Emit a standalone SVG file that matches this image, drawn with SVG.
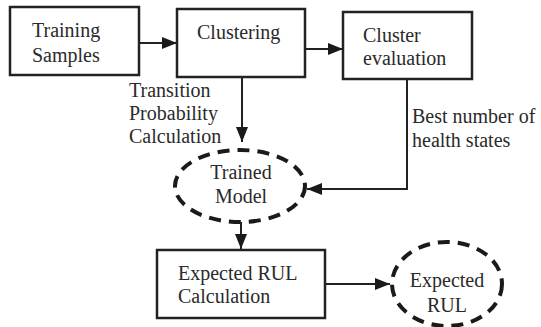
<svg xmlns="http://www.w3.org/2000/svg" width="541" height="327" viewBox="0 0 541 327">
<style>
  .box { fill: #fff; stroke: #222; stroke-width: 2.5; }
  .dash { fill: #fff; stroke: #1a1a1a; stroke-width: 4; stroke-dasharray: 12 8; }
  .t { font-family: "Liberation Serif", "Times New Roman", serif; font-size: 20px; fill: #2a2a2a; }
  .c { text-anchor: middle; }
  .line { fill: none; stroke: #222; stroke-width: 2; }
</style>
<defs>
  <marker id="arr" markerWidth="15" markerHeight="12" refX="15" refY="6" orient="auto" markerUnits="userSpaceOnUse">
    <path d="M0,0 L15,6 L0,12 Z" fill="#1a1a1a"/>
  </marker>
</defs>
<rect width="541" height="327" fill="#fff"/>
<g id="training-samples">
  <rect class="box" x="10" y="7" width="129" height="68"/>
  <text class="t" x="32" y="37">Training</text>
  <text class="t" x="32" y="62">Samples</text>
</g>
<g id="clustering">
  <rect class="box" x="177" y="9" width="128" height="68"/>
  <text class="t" x="197" y="39">Clustering</text>
</g>
<g id="cluster-evaluation">
  <rect class="box" x="343" y="12" width="129" height="67"/>
  <text class="t" x="363" y="42">Cluster</text>
  <text class="t" x="363" y="65">evaluation</text>
</g>
<g id="trained-model">
  <ellipse class="dash" cx="240" cy="186" rx="65" ry="36"/>
  <text class="t c" x="241" y="179">Trained</text>
  <text class="t c" x="241" y="203">Model</text>
</g>
<g id="expected-rul-calculation">
  <rect class="box" x="157" y="250" width="168" height="68"/>
  <text class="t" x="178" y="280">Expected RUL</text>
  <text class="t" x="178" y="303">Calculation</text>
</g>
<g id="expected-rul">
  <ellipse class="dash" cx="447" cy="284" rx="55" ry="42"/>
  <text class="t c" x="447" y="287">Expected</text>
  <text class="t c" x="447" y="312">RUL</text>
</g>
<g id="connectors">
  <line class="line" x1="139" y1="43" x2="177" y2="43" marker-end="url(#arr)"/>
  <line class="line" x1="305" y1="49" x2="343" y2="49" marker-end="url(#arr)"/>
  <line class="line" x1="242" y1="77" x2="242" y2="142" marker-end="url(#arr)"/>
  <polyline class="line" points="407,79 407,189 307,189" marker-end="url(#arr)"/>
  <line class="line" x1="241" y1="222" x2="241" y2="249" marker-end="url(#arr)"/>
  <line class="line" x1="325" y1="284" x2="390" y2="284" marker-end="url(#arr)"/>
  <text class="t" x="129" y="97">Transition</text>
  <text class="t" x="129" y="120">Probability</text>
  <text class="t" x="129" y="143">Calculation</text>
  <text class="t" x="412" y="123">Best number of</text>
  <text class="t" x="412" y="147">health states</text>
</g>
</svg>
